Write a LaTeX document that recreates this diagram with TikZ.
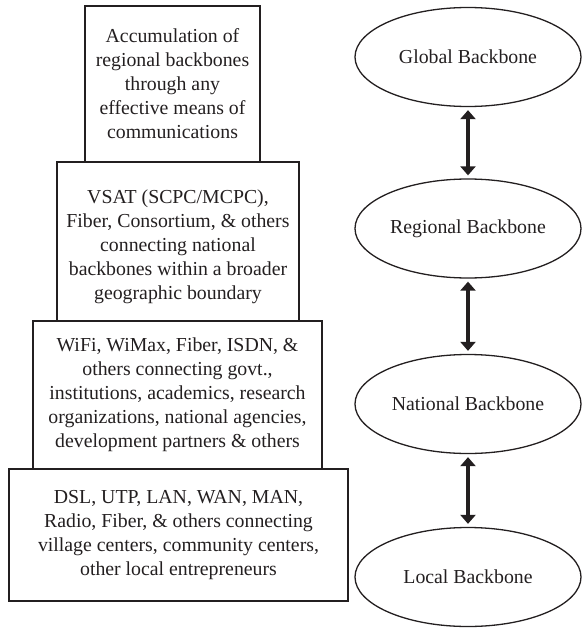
\documentclass[tikz,border=0pt]{standalone}
\usepackage{fontspec}
\setmainfont{Liberation Serif}
\usetikzlibrary{shapes.geometric,arrows.meta}
\definecolor{ink}{HTML}{231F20}
\tikzset{
  layerbox/.style={draw=ink, line width=1.3pt, rectangle, inner sep=0pt, align=center,
    text=ink, font=\fontsize{19.8}{24}\selectfont},
  bone/.style={draw=ink, line width=1.3pt, ellipse, inner sep=0pt,
    minimum width=226pt, minimum height=99pt, text=ink, font=\fontsize{19.8}{24}\selectfont},
  link/.style={draw=ink, line width=3.6pt, {Triangle[length=9pt,width=15pt]}-{Triangle[length=9pt,width=15pt]}, shorten <=3pt, shorten >=3pt}
}
\begin{document}
\begin{tikzpicture}[x=1pt,y=-1pt]
\useasboundingbox (0,0) rectangle (582,629);
% layered boxes
\node[layerbox, minimum width=175pt, minimum height=156pt] (b1) at (172.5,84)
  {Accumulation of\\regional backbones\\through any\\effective means of\\communications};
\node[layerbox, minimum width=242pt, minimum height=159pt] (b2) at (178,241.5)
  {\rule{0pt}{24pt}VSAT (SCPC/MCPC),\\Fiber, Consortium, \& others\\connecting national\\backbones within a broader\\geographic boundary};
\node[layerbox, minimum width=289pt, minimum height=148pt] (b3) at (177.5,395)
  {WiFi, WiMax, Fiber, ISDN, \&\\others connecting govt.,\\institutions, academics, research\\organizations, national agencies,\\development partners \& others};
\node[layerbox, minimum width=339pt, minimum height=132pt] (b4) at (178.5,535)
  {DSL, UTP, LAN, WAN, MAN,\\Radio, Fiber, \& others connecting\\village centers, community centers,\\other local entrepreneurs};
% backbones
\node[bone] (g) at (468,57) {Global Backbone};
\node[bone] (r) at (468,228.5) {Regional Backbone};
\node[bone] (n) at (468,404) {National Backbone};
\node[bone] (l) at (468,577) {Local Backbone};
\draw[link] (g.south) -- (r.north);
\draw[link] (r.south) -- (n.north);
\draw[link] (n.south) -- (l.north);
\end{tikzpicture}
\end{document}
